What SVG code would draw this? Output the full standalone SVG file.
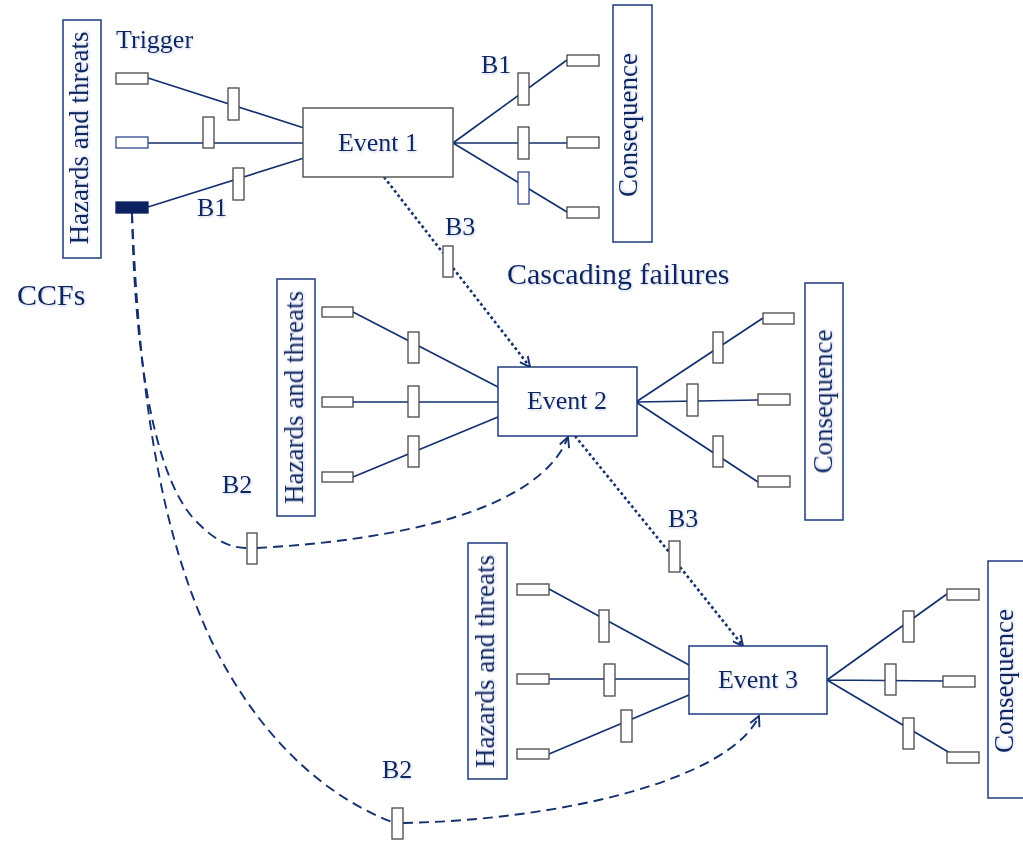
<svg xmlns="http://www.w3.org/2000/svg" width="1023" height="842" viewBox="0 0 1023 842">
  <style>
    text{font-family:'Liberation Serif','DejaVu Serif','Times New Roman',serif;fill:#0c2561;filter:url(#glow)}
    .s26{font-size:26px}
    .s27{font-size:27px}
    .s30{font-size:30px}
    .box{fill:#fff;stroke:#1f3b7d;stroke-width:1.5}
    .ev1{fill:#fff;stroke:#5a5a5a;stroke-width:1.5}
    .sm{fill:#fff;stroke:#474747;stroke-width:1.3}
    .smb{fill:#fff;stroke:#2e4a8c;stroke-width:1.3}
    .trg{fill:#0b2160;stroke:#0b2160;stroke-width:1.3}
    .ln{stroke:#14306e;stroke-width:1.7;fill:none}
    .dot{stroke:#14306e;stroke-width:2.6;stroke-dasharray:2.8 2.8;fill:none}
    .dash{stroke:#14306e;stroke-width:1.9;stroke-dasharray:10 6;fill:none}
  </style>
  <defs>
    <!-- soft bluish text shadow -->
    <filter id="glow" x="-10%" y="-20%" width="120%" height="140%">
      <feDropShadow dx="0.8" dy="1.2" stdDeviation="0.9" flood-color="#8fa6d4" flood-opacity="0.55"/>
    </filter>
    <marker id="arr" viewBox="0 0 12 12" refX="11" refY="6" markerWidth="12" markerHeight="12" markerUnits="userSpaceOnUse" orient="auto">
      <path d="M1,1 L11,6 L1,11" fill="none" stroke="#14306e" stroke-width="1.9" stroke-dasharray="none"/>
    </marker>
  </defs>

  <!-- connectors: bow-tie spokes, cascading links and common-cause links -->
  <g id="connectors">
    <path class="ln" d="M148,78 L304,128 M148,143 L303,143 M148,207 L304,158"/>
    <path class="ln" d="M453,143 L567,60 M453,143 L567,143 M453,143 L567,212"/>
    <path class="ln" d="M353,312 L498,387 M353,402 L498,402 M353,477 L498,417"/>
    <path class="ln" d="M636,402 L763,318 M636,402 L758,400 M636,402 L758,482"/>
    <path class="ln" d="M549,589 L689,665 M549,679 L689,679 M549,754 L689,695"/>
    <path class="ln" d="M827,680 L947,594 M827,680 L943,681 M827,680 L950,753"/>

    <path class="dot" d="M384,177 L443,253"/>
    <path class="dot" d="M453,268 L530,367" marker-end="url(#arr)"/>
    <path class="dot" d="M575,436 L669,552"/>
    <path class="dot" d="M680,567 L743,646" marker-end="url(#arr)"/>

    <path class="dash" d="M132,213 C135,380 160,490 200,525 C215,540 230,548 247,548"/>
    <path class="dash" d="M257,548 C400,540 540,510 568,437" marker-end="url(#arr)"/>
    <path class="dash" d="M132,213 C140,400 160,530 211,640 C250,720 310,790 392,822"/>
    <path class="dash" d="M403,823 C560,820 730,780 759,716" marker-end="url(#arr)"/>
  </g>

  <!-- bow-tie 1 -->
  <g id="hazards1">
    <rect class="box" x="63" y="20" width="38" height="238"/>
    <text class="s27" transform="translate(88,138) rotate(-90)" text-anchor="middle">Hazards and threats</text>
  </g>
  <g id="sources1">
    <rect class="sm" x="116" y="73" width="32" height="11"/>
    <rect class="smb" x="116" y="137" width="32" height="11"/>
    <rect class="trg" x="116" y="202" width="32" height="11"/>
  </g>
  <g id="barriers1">
    <rect class="sm" x="228" y="88" width="11" height="32"/>
    <rect class="sm" x="203" y="117" width="11" height="31"/>
    <rect class="sm" x="233" y="168" width="11" height="32"/>
    <rect class="sm" x="518" y="73" width="11" height="32"/>
    <rect class="sm" x="518" y="127" width="11" height="32"/>
    <rect class="smb" x="518" y="172" width="11" height="32"/>
  </g>
  <g id="event1">
    <rect class="ev1" x="303" y="108" width="150" height="69"/>
    <text class="s26" x="378" y="151" text-anchor="middle">Event 1</text>
  </g>
  <g id="outcomes1">
    <rect class="sm" x="567" y="55" width="32" height="11"/>
    <rect class="sm" x="567" y="137" width="32" height="11"/>
    <rect class="sm" x="567" y="207" width="32" height="11"/>
  </g>
  <g id="consequence1">
    <rect class="box" x="613" y="5" width="39" height="237"/>
    <text class="s27" transform="translate(637,125) rotate(-90)" text-anchor="middle">Consequence</text>
  </g>

  <!-- bow-tie 2 -->
  <g id="hazards2">
    <rect class="box" x="277" y="279" width="38" height="237"/>
    <text class="s27" transform="translate(303,397.5) rotate(-90)" text-anchor="middle">Hazards and threats</text>
  </g>
  <g id="sources2">
    <rect class="sm" x="322" y="307" width="31" height="10"/>
    <rect class="sm" x="322" y="397" width="31" height="10"/>
    <rect class="sm" x="322" y="472" width="31" height="10"/>
  </g>
  <g id="barriers2">
    <rect class="sm" x="408" y="332" width="11" height="31"/>
    <rect class="sm" x="408" y="386" width="11" height="31"/>
    <rect class="sm" x="408" y="436" width="11" height="31"/>
    <rect class="sm" x="713" y="332" width="10" height="31"/>
    <rect class="sm" x="687" y="384" width="11" height="32"/>
    <rect class="sm" x="713" y="436" width="10" height="31"/>
  </g>
  <g id="event2">
    <rect class="box" x="498" y="367" width="139" height="69"/>
    <text class="s26" x="567" y="409" text-anchor="middle">Event 2</text>
  </g>
  <g id="outcomes2">
    <rect class="sm" x="763" y="313" width="31" height="11"/>
    <rect class="sm" x="758" y="394" width="32" height="11"/>
    <rect class="sm" x="758" y="476" width="32" height="11"/>
  </g>
  <g id="consequence2">
    <rect class="box" x="805" y="283" width="38" height="237"/>
    <text class="s27" transform="translate(832,401.5) rotate(-90)" text-anchor="middle">Consequence</text>
  </g>

  <!-- bow-tie 3 -->
  <g id="hazards3">
    <rect class="box" x="468" y="543" width="39" height="236"/>
    <text class="s27" transform="translate(494,661.5) rotate(-90)" text-anchor="middle">Hazards and threats</text>
  </g>
  <g id="sources3">
    <rect class="sm" x="517" y="584" width="32" height="11"/>
    <rect class="sm" x="517" y="674" width="32" height="10"/>
    <rect class="sm" x="517" y="749" width="32" height="10"/>
  </g>
  <g id="barriers3">
    <rect class="sm" x="599" y="610" width="10" height="32"/>
    <rect class="sm" x="604" y="664" width="11" height="32"/>
    <rect class="sm" x="621" y="710" width="11" height="32"/>
    <rect class="sm" x="903" y="611" width="11" height="31"/>
    <rect class="sm" x="885" y="664" width="11" height="31"/>
    <rect class="sm" x="903" y="718" width="11" height="31"/>
  </g>
  <g id="event3">
    <rect class="box" x="689" y="646" width="138" height="68"/>
    <text class="s26" x="758" y="688" text-anchor="middle">Event 3</text>
  </g>
  <g id="outcomes3">
    <rect class="sm" x="947" y="589" width="32" height="11"/>
    <rect class="sm" x="943" y="676" width="32" height="11"/>
    <rect class="sm" x="947" y="752" width="32" height="11"/>
  </g>
  <g id="consequence3">
    <rect class="box" x="988" y="561" width="39" height="237"/>
    <text class="s27" transform="translate(1013,681) rotate(-90)" text-anchor="middle">Consequence</text>
  </g>

  <!-- link barriers on cascading and common-cause paths -->
  <g id="linkBarriers">
    <rect class="sm" x="443" y="246" width="10" height="31"/>
    <rect class="sm" x="669" y="541" width="11" height="31"/>
    <rect class="sm" x="247" y="533" width="10" height="31"/>
    <rect class="sm" x="392" y="808" width="11" height="31"/>
  </g>

  <!-- labels -->
  <g id="labels">
    <text class="s26" x="116" y="48">Trigger</text>
    <text class="s26" x="197" y="216">B1</text>
    <text class="s26" x="481" y="73">B1</text>
    <text class="s26" x="445" y="235">B3</text>
    <text class="s26" x="668" y="527">B3</text>
    <text class="s26" x="222" y="493">B2</text>
    <text class="s26" x="382" y="778">B2</text>
    <text class="s30" x="17" y="305">CCFs</text>
    <text class="s30" x="507" y="284">Cascading failures</text>
  </g>
</svg>
